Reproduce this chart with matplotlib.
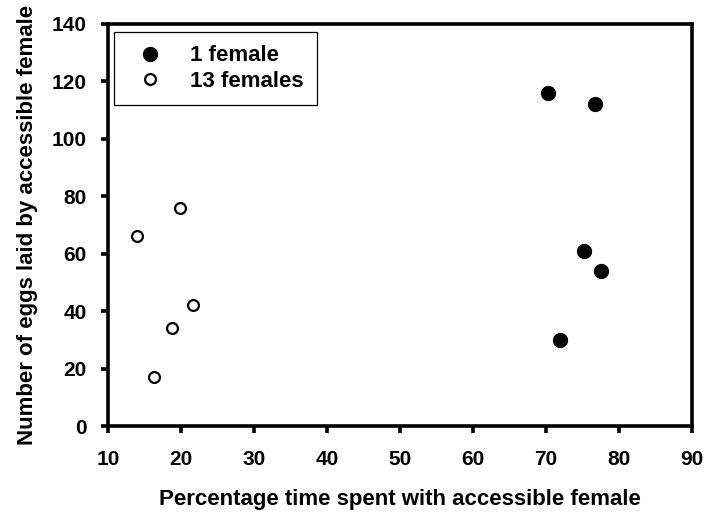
import matplotlib
matplotlib.use("Agg")
import matplotlib.pyplot as plt

plt.rcParams['font.family'] = ['Liberation Sans', 'DejaVu Sans']
plt.rcParams['font.weight'] = 'bold'

# 1 female (filled)
one_x = [70.3, 76.7, 75.2, 77.5, 71.9]
one_y = [116, 112, 61, 54, 30]
# 13 females (open)
many_x = [19.9, 14.0, 21.6, 18.8, 16.3]
many_y = [76, 66, 42, 34, 17]

fig = plt.figure(figsize=(7.12, 5.17), dpi=100)
ax = fig.add_axes([0.1517, 0.176, 0.8203, 0.7776])

ax.plot(one_x, one_y, 'o', color='black', markersize=10, label='1 female')
ax.plot(many_x, many_y, 'o', markerfacecolor='white', markeredgecolor='black',
        markeredgewidth=1.6, markersize=7.8, label='13 females')

ax.set_xlim(10, 90)
ax.set_ylim(0, 140)
ax.set_xticks(range(10, 91, 10))
ax.set_yticks(range(0, 141, 20))

for s in ax.spines.values():
    s.set_linewidth(2.6)
ax.tick_params(direction='out', length=5, width=2.6, labelsize=15)
ax.tick_params(axis='x', pad=12.5)
ax.tick_params(axis='y', pad=10.5)
for lab in ax.get_xticklabels() + ax.get_yticklabels():
    lab.set_fontweight('bold')

ax.set_xlabel('Percentage time spent with accessible female', fontsize=16,
              fontweight='bold', labelpad=14)
ax.set_ylabel('Number of eggs laid by accessible female', fontsize=16,
              fontweight='bold', labelpad=10)

leg = ax.legend(loc='upper left', bbox_to_anchor=(0.0103, 0.98), fancybox=False,
                edgecolor='black', framealpha=1, prop={'size': 16, 'weight': 'bold'},
                handletextpad=0.8, borderpad=0.6, labelspacing=0.2, borderaxespad=0)
leg.get_frame().set_linewidth(0.9)

fig.savefig('out.png', dpi=100)
